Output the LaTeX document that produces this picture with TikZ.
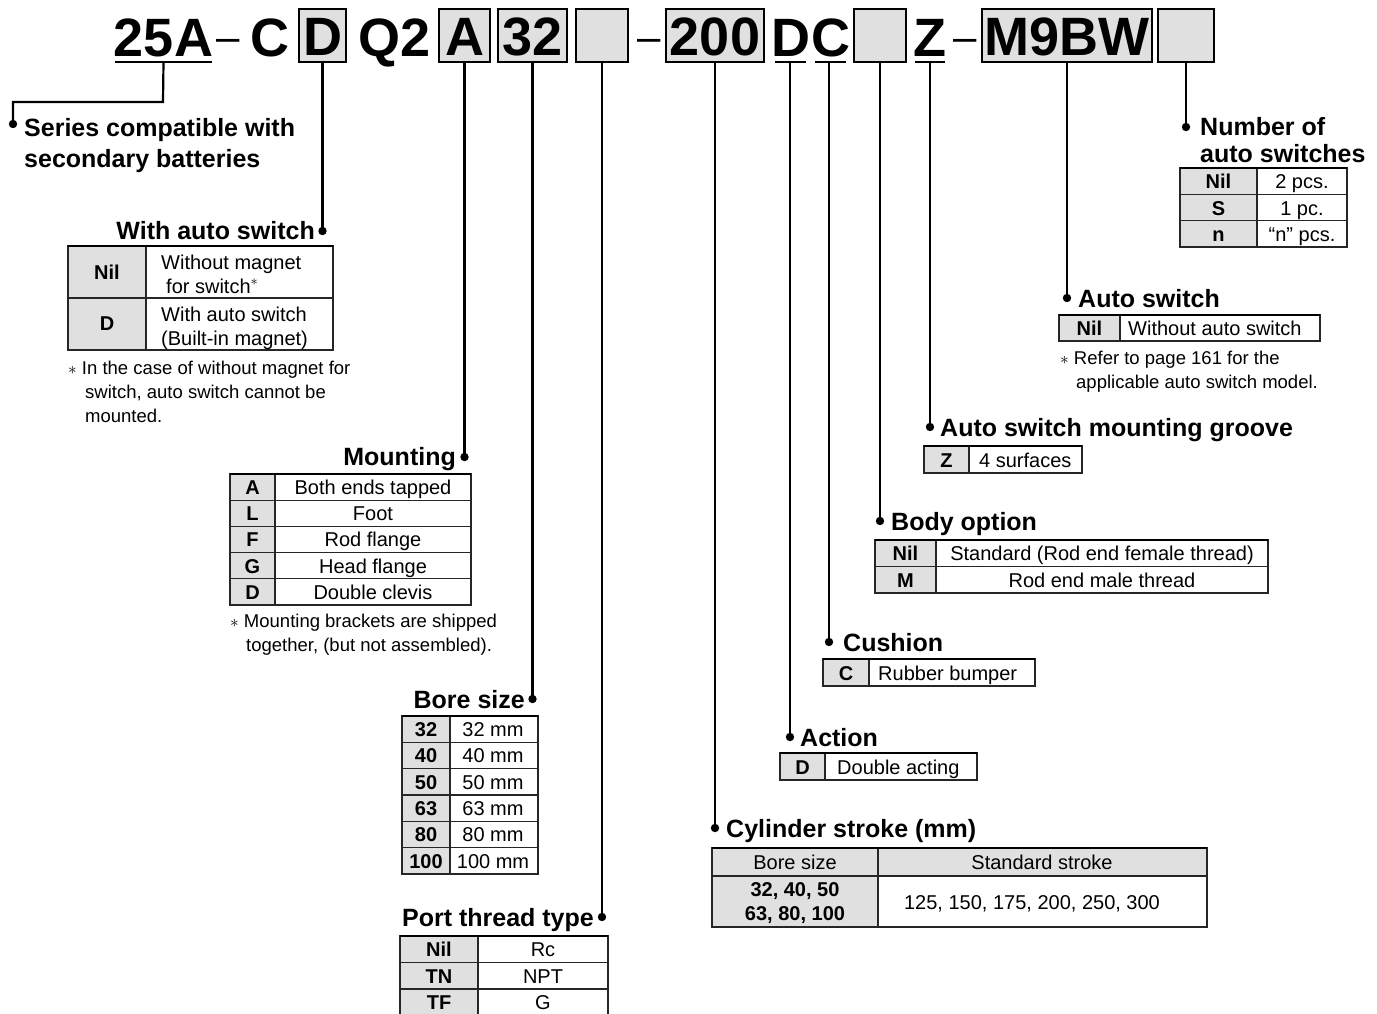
\documentclass[tikz,border=0pt]{standalone}
\usepackage{fontspec}
\setmainfont{Liberation Sans}
\definecolor{cellgray}{RGB}{224,224,224}
\tikzset{
  conn/.style={line width=2.2pt},
  uline/.style={line width=2.2pt},
  hbox/.style={draw, line width=1.8pt, fill=cellgray, inner sep=0pt, text height=39pt, text depth=0pt, font=\fontsize{54}{54}\selectfont\bfseries},
  htxt/.style={inner sep=0pt, font=\fontsize{54}{54}\selectfont\bfseries},
  hdash/.style={inner sep=0pt, anchor=base, font=\fontsize{42}{42}\selectfont},
  ttl/.style={inner sep=0pt, font=\fontsize{25}{25}\selectfont\bfseries},
  tb/.style={inner sep=0pt, font=\fontsize{20}{24}\selectfont\bfseries},
  tr/.style={inner sep=0pt, font=\fontsize{20}{24}\selectfont},
  nt/.style={inner sep=0pt, font=\fontsize{18.5}{24}\selectfont},
  grid/.style={line width=1.1pt, draw=black!85},
  topl/.style={line width=2.4pt},
}
\newcommand{\dotat}[1]{\fill (#1) circle (4.2pt);}
\begin{document}
\begin{tikzpicture}[x=1pt,y=-1pt]
\useasboundingbox (0,0) rectangle (1377,1013);

% ---------- header ----------
\node[htxt, anchor=base] (h25) at (163.5,56) {25A};
\draw[uline] (115,62) -- (212,62);
\node[hdash] (hd1) at (228,51) {–};
\node[htxt, anchor=base] (hC) at (270,56) {C};
\node[hbox, minimum width=47, minimum height=53] (bD) at (322.5,35.5) {D};
\node[htxt, anchor=base] (hQ) at (395,56) {Q2};
\node[hbox, minimum width=51, minimum height=53] (bA) at (464.5,35.5) {A};
\node[hbox, minimum width=69, minimum height=53] (b32) at (532.5,35.5) {32};
\node[hbox, minimum width=52, minimum height=53] (bE1) at (602,35.5) {};
\node[hdash] (hd2) at (649,51) {–};
\node[hbox, minimum width=98, minimum height=53] (b200) at (715,35.5) {200};
\node[htxt, anchor=base] (hDD) at (791,56) {D};
\node[htxt, anchor=base] (hCC) at (831,56) {C};
\draw[uline] (775,62) -- (806,62);
\draw[uline] (815,62) -- (846,62);
\node[hbox, minimum width=52, minimum height=53] (bE2) at (880,35.5) {};
\node[htxt, anchor=base] (hZ) at (930,56) {Z};
\draw[uline] (915,62) -- (945,62);
\node[hdash] (hd3) at (965,51) {–};
\node[hbox, minimum width=170, minimum height=53] (bM) at (1067,35.5) {M9BW};
\node[hbox, minimum width=56, minimum height=53] (bE3) at (1186,35.5) {};

% ---------- dots ----------
\coordinate (d25) at (13,124);
\coordinate (dD) at (322.5,231);
\coordinate (dA) at (464.5,457);
\coordinate (d32) at (532.5,699);
\coordinate (dE1) at (602,917);
\coordinate (d200) at (715,828);
\coordinate (dDD) at (790,737);
\coordinate (dCC) at (829,642);
\coordinate (dE2) at (880,521);
\coordinate (dZ) at (930,427);
\coordinate (dM) at (1067,298);
\coordinate (dE3) at (1186,127);
\coordinate (k25) at (163,102);
\coordinate (k25b) at (13,102);

\draw[conn] (h25.south |- 0,62) -- (k25) -- (k25b) -- (d25);
\draw[conn] (bD.south) -- (dD);
\draw[conn] (bA.south) -- (dA);
\draw[conn] (b32.south) -- (d32);
\draw[conn] (bE1.south) -- (dE1);
\draw[conn] (b200.south) -- (d200);
\draw[conn] (790,62) -- (dDD);
\draw[conn] (829,62) -- (dCC);
\draw[conn] (bE2.south) -- (dE2);
\draw[conn] (930,62) -- (dZ);
\draw[conn] (bM.south) -- (dM);
\draw[conn] (bE3.south) -- (dE3);
\foreach \p in {d25,dD,dA,d32,dE1,d200,dDD,dCC,dE2,dZ,dM,dE3} {\dotat{\p}}

% ---------- Series ----------
\node[ttl, anchor=base west] (ser1) at (24,136) {Series compatible with};
\node[ttl, anchor=base west] (ser2) at (24,167) {secondary batteries};

% ---------- With auto switch ----------
\node[ttl, anchor=base east] (tW) at (315,239) {With auto switch};
\fill[cellgray] (68,246) rectangle (146,350);
\draw[grid] (68,246) rectangle (333,350);
\draw[grid] (146,246) -- (146,350);
\draw[grid] (68,298) -- (333,298);
\draw[topl] (68,246) -- (333,246);
\node[tb] (wN) at (107,272) {Nil};
\node[tb] (wD) at (107,324) {D};
\node[tr, anchor=base west] (wN1) at (161,269) {Without magnet};
\node[tr, anchor=base west] (wN2) at (166,293) {for switch\textsuperscript{$\ast$}};
\node[tr, anchor=base west] (wD1) at (161,321) {With auto switch};
\node[tr, anchor=base west] (wD2) at (161,345) {(Built-in magnet)};
\node[nt, anchor=base west] (wn1) at (68,374) {$\ast$ In the case of without magnet for};
\node[nt, anchor=base west] (wn2) at (85,398) {switch, auto switch cannot be};
\node[nt, anchor=base west] (wn3) at (85,422) {mounted.};

% ---------- Mounting ----------
\node[ttl, anchor=base east] (tM) at (456,465) {Mounting};
\fill[cellgray] (230,474) rectangle (275,605);
\draw[grid] (230,474) rectangle (471,605);
\draw[grid] (275,474) -- (275,605);
\foreach \y in {500.2,526.4,552.6,578.8} \draw[grid] (230,\y) -- (471,\y);
\draw[topl] (230,474) -- (471,474);
\node[tb, anchor=base] (mA) at (252.5,494.5) {A};
\node[tb, anchor=base] (mL) at (252.5,520.7) {L};
\node[tb, anchor=base] (mF) at (252.5,546.9) {F};
\node[tb, anchor=base] (mG) at (252.5,573.1) {G};
\node[tb, anchor=base] (mD) at (252.5,599.3) {D};
\node[tr, anchor=base] (mA2) at (373,494.5) {Both ends tapped};
\node[tr, anchor=base] (mL2) at (373,520.7) {Foot};
\node[tr, anchor=base] (mF2) at (373,546.9) {Rod flange};
\node[tr, anchor=base] (mG2) at (373,573.1) {Head flange};
\node[tr, anchor=base] (mD2) at (373,599.3) {Double clevis};
\node[nt, anchor=base west] (mn1) at (230,627) {$\ast$ Mounting brackets are shipped};
\node[nt, anchor=base west] (mn2) at (246,651) {together, (but not assembled).};

% ---------- Bore size ----------
\node[ttl, anchor=base east] (tB) at (525,708) {Bore size};
\fill[cellgray] (402,716) rectangle (450,874);
\draw[grid] (402,716) rectangle (538,874);
\draw[grid] (450,716) -- (450,874);
\foreach \y in {742.3,768.7,795,821.3,847.7} \draw[grid] (402,\y) -- (538,\y);
\draw[topl] (402,716) -- (538,716);
\foreach \v/\i in {32/0,40/1,50/2,63/3,80/4,100/5} {
  \node[tb, anchor=base] (bl\v) at (426,736.5+26.33*\i) {\v};
  \node[tr, anchor=base] (br\v) at (493,736.5+26.33*\i) {\v\ mm};
}

% ---------- Port thread type ----------
\node[ttl, anchor=base east] (tP) at (594,926) {Port thread type};
\fill[cellgray] (400,936) rectangle (478,1016);
\draw[grid] (400,936) rectangle (608,1016);
\draw[grid] (478,936) -- (478,1016);
\foreach \y in {962.5,989} \draw[grid] (400,\y) -- (608,\y);
\draw[topl] (400,936) -- (608,936);
\node[tb, anchor=base] (pN) at (439,956.5) {Nil};
\node[tb, anchor=base] (pTN) at (439,983) {TN};
\node[tb, anchor=base] (pTF) at (439,1009.5) {TF};
\node[tr, anchor=base] (pN2) at (543,956.5) {Rc};
\node[tr, anchor=base] (pTN2) at (543,983) {NPT};
\node[tr, anchor=base] (pTF2) at (543,1009.5) {G};

% ---------- Cylinder stroke ----------
\node[ttl, anchor=base west] (tS) at (726,837) {Cylinder stroke (mm)};
\fill[cellgray] (712,848) rectangle (878,927);
\fill[cellgray] (878,848) rectangle (1207,876);
\draw[grid] (712,848) rectangle (1207,927);
\draw[grid] (878,848) -- (878,927);
\draw[grid] (712,876) -- (1207,876);
\draw[topl] (712,848) -- (1207,848);
\node[tr, anchor=base] (sH1) at (795,869) {Bore size};
\node[tr, anchor=base] (sH2) at (1042,869) {Standard stroke};
\node[tb, anchor=base] (sB1) at (795,896) {32, 40, 50};
\node[tb, anchor=base] (sB2) at (795,920) {63, 80, 100};
\node[tr, anchor=base] (sV) at (1032,909) {125, 150, 175, 200, 250, 300};

% ---------- Action ----------
\node[ttl, anchor=base west] (tAc) at (800,746) {Action};
\fill[cellgray] (780,753) rectangle (825,780);
\draw[grid] (780,753) rectangle (977,780);
\draw[grid] (825,753) -- (825,780);
\draw[topl] (780,753) -- (977,753);
\node[tb, anchor=base] (aD) at (802.5,774) {D};
\node[tr, anchor=base west] (aD2) at (837,774) {Double acting};

% ---------- Cushion ----------
\node[ttl, anchor=base west] (tCu) at (843,651) {Cushion};
\fill[cellgray] (823,659) rectangle (869,686);
\draw[grid] (823,659) rectangle (1035,686);
\draw[grid] (869,659) -- (869,686);
\draw[topl] (823,659) -- (1035,659);
\node[tb, anchor=base] (cC) at (846,680) {C};
\node[tr, anchor=base west] (cC2) at (878,680) {Rubber bumper};

% ---------- Body option ----------
\node[ttl, anchor=base west] (tBo) at (891,530) {Body option};
\fill[cellgray] (875,540) rectangle (936,593);
\draw[grid] (875,540) rectangle (1268,593);
\draw[grid] (936,540) -- (936,593);
\draw[grid] (875,566.5) -- (1268,566.5);
\draw[topl] (875,540) -- (1268,540);
\node[tb, anchor=base] (oN) at (905.5,560.5) {Nil};
\node[tb, anchor=base] (oM) at (905.5,587) {M};
\node[tr, anchor=base] (oN2) at (1102,560.5) {Standard (Rod end female thread)};
\node[tr, anchor=base] (oM2) at (1102,587) {Rod end male thread};

% ---------- Groove ----------
\node[ttl, anchor=base west] (tG) at (940,436) {Auto switch mounting groove};
\fill[cellgray] (924,446) rectangle (969,473);
\draw[grid] (924,446) rectangle (1082,473);
\draw[grid] (969,446) -- (969,473);
\draw[topl] (924,446) -- (1082,446);
\node[tb, anchor=base] (gZ) at (946.5,467) {Z};
\node[tr, anchor=base west] (gZ2) at (979,467) {4 surfaces};

% ---------- Auto switch ----------
\node[ttl, anchor=base west] (tAs) at (1078,307) {Auto switch};
\fill[cellgray] (1059,315) rectangle (1120,341);
\draw[grid] (1059,315) rectangle (1320,341);
\draw[grid] (1120,315) -- (1120,341);
\draw[topl] (1059,315) -- (1320,315);
\node[tb, anchor=base] (asN) at (1089.5,335) {Nil};
\node[tr, anchor=base west] (asN2) at (1128,335) {Without auto switch};
\node[nt, anchor=base west] (asn1) at (1060,364) {$\ast$ Refer to page 161 for the};
\node[nt, anchor=base west] (asn2) at (1076,388) {applicable auto switch model.};

% ---------- Number of auto switches ----------
\node[ttl, anchor=base west] (tN1) at (1200,135) {Number of};
\node[ttl, anchor=base west] (tN2) at (1200,162) {auto switches};
\fill[cellgray] (1180,168) rectangle (1257,247);
\draw[grid] (1180,168) rectangle (1347,247);
\draw[grid] (1257,168) -- (1257,247);
\foreach \y in {194.3,220.7} \draw[grid] (1180,\y) -- (1347,\y);
\draw[topl] (1180,168) -- (1347,168);
\node[tb, anchor=base] (nN) at (1218.5,188.5) {Nil};
\node[tb, anchor=base] (nS) at (1218.5,215) {S};
\node[tb, anchor=base] (nn) at (1218.5,241) {n};
\node[tr, anchor=base] (nN2) at (1302,188.5) {2 pcs.};
\node[tr, anchor=base] (nS2) at (1302,215) {1 pc.};
\node[tr, anchor=base] (nn2) at (1302,241) {“n” pcs.};
\end{tikzpicture}
\end{document}
